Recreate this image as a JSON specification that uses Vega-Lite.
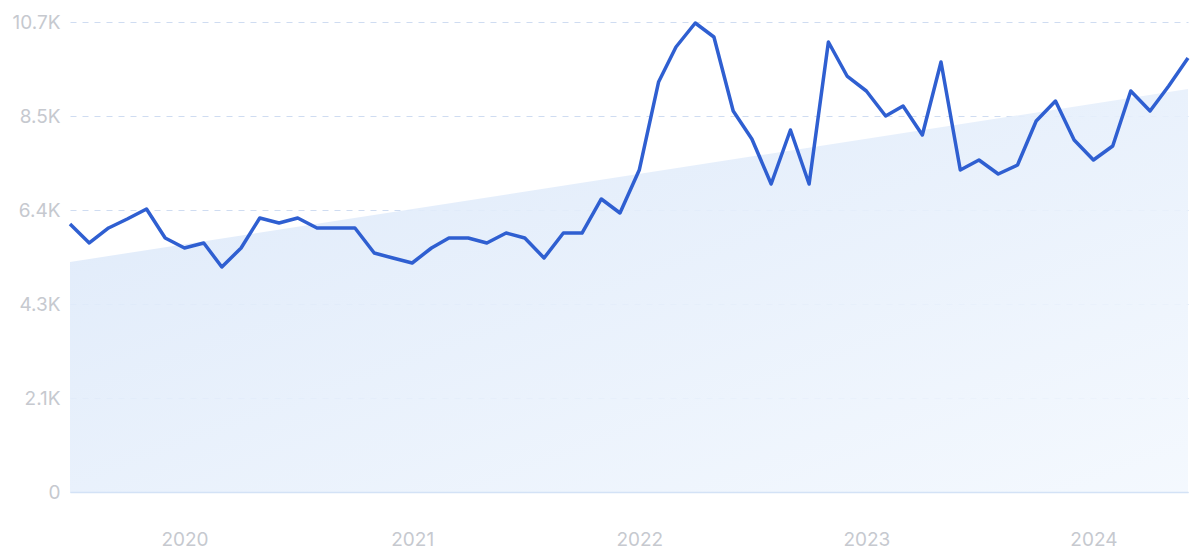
{
  "$schema": "https://vega.github.io/schema/vega-lite/v6.json",
  "width": 1118,
  "height": 470,
  "autosize": "none",
  "padding": {"left": 70, "top": 22, "right": 12, "bottom": 64},
  "background": "white",
  "config": {
    "view": {"stroke": null},
    "font": "Inter"
  },
  "datasets": {
    "traffic": [
      {"date": "2019-07-01", "value": 6078},
      {"date": "2019-08-01", "value": 5648},
      {"date": "2019-09-01", "value": 5988},
      {"date": "2019-10-01", "value": 6192},
      {"date": "2019-11-01", "value": 6419},
      {"date": "2019-12-01", "value": 5761},
      {"date": "2020-01-01", "value": 5534},
      {"date": "2020-02-01", "value": 5648},
      {"date": "2020-03-01", "value": 5103},
      {"date": "2020-04-01", "value": 5534},
      {"date": "2020-05-01", "value": 6215},
      {"date": "2020-06-01", "value": 6101},
      {"date": "2020-07-01", "value": 6215},
      {"date": "2020-08-01", "value": 5988},
      {"date": "2020-09-01", "value": 5988},
      {"date": "2020-10-01", "value": 5988},
      {"date": "2020-11-01", "value": 5421},
      {"date": "2020-12-01", "value": 5307},
      {"date": "2021-01-01", "value": 5194},
      {"date": "2021-02-01", "value": 5534},
      {"date": "2021-03-01", "value": 5761},
      {"date": "2021-04-01", "value": 5761},
      {"date": "2021-05-01", "value": 5648},
      {"date": "2021-06-01", "value": 5874},
      {"date": "2021-07-01", "value": 5761},
      {"date": "2021-08-01", "value": 5307},
      {"date": "2021-09-01", "value": 5874},
      {"date": "2021-10-01", "value": 5874},
      {"date": "2021-11-01", "value": 6646},
      {"date": "2021-12-01", "value": 6328},
      {"date": "2022-01-01", "value": 7303},
      {"date": "2022-02-01", "value": 9299},
      {"date": "2022-03-01", "value": 10093},
      {"date": "2022-04-01", "value": 10637},
      {"date": "2022-05-01", "value": 10320},
      {"date": "2022-06-01", "value": 8641},
      {"date": "2022-07-01", "value": 8006},
      {"date": "2022-08-01", "value": 6985},
      {"date": "2022-09-01", "value": 8210},
      {"date": "2022-10-01", "value": 6985},
      {"date": "2022-11-01", "value": 10206},
      {"date": "2022-12-01", "value": 9435},
      {"date": "2023-01-01", "value": 9095},
      {"date": "2023-02-01", "value": 8528},
      {"date": "2023-03-01", "value": 8755},
      {"date": "2023-04-01", "value": 8097},
      {"date": "2023-05-01", "value": 9753},
      {"date": "2023-06-01", "value": 7303},
      {"date": "2023-07-01", "value": 7530},
      {"date": "2023-08-01", "value": 7213},
      {"date": "2023-09-01", "value": 7417},
      {"date": "2023-10-01", "value": 8415},
      {"date": "2023-11-01", "value": 8868},
      {"date": "2023-12-01", "value": 7984},
      {"date": "2024-01-01", "value": 7530},
      {"date": "2024-02-01", "value": 7848},
      {"date": "2024-03-01", "value": 9095},
      {"date": "2024-04-01", "value": 8641},
      {"date": "2024-05-01", "value": 9208},
      {"date": "2024-06-01", "value": 9843}
    ],
    "trend": [
      {"date": "2019-07-01", "value": 5217},
      {"date": "2024-06-01", "value": 9140}
    ]
  },
  "encoding": {
    "x": {
      "field": "date",
      "type": "temporal",
      "timeUnit": "utcyearmonth",
      "title": null,
      "scale": {
        "domain": [
          {"year": 2019, "month": 7, "date": 1, "utc": true},
          {"year": 2024, "month": 6, "date": 1, "utc": true}
        ],
        "nice": false
      },
      "axis": {
        "values": [
          {"year": 2020, "month": 1, "date": 1, "utc": true},
          {"year": 2021, "month": 1, "date": 1, "utc": true},
          {"year": 2022, "month": 1, "date": 1, "utc": true},
          {"year": 2023, "month": 1, "date": 1, "utc": true},
          {"year": 2024, "month": 1, "date": 1, "utc": true}
        ],
        "format": "%Y",
        "grid": false,
        "ticks": false,
        "domain": true,
        "domainColor": "#d3e2f6",
        "domainWidth": 1.5,
        "labelFontSize": 19,
        "labelColor": "#c6c9cf",
        "labelPadding": 38,
        "labelBaseline": "top",
        "labelFlush": false,
        "zindex": 1
      }
    },
    "y": {
      "field": "value",
      "type": "quantitative",
      "title": null,
      "scale": {"domain": [0, 10660], "nice": false, "zero": true},
      "axis": {
        "values": [0, 2132, 4264, 6396, 8528, 10660],
        "labelExpr": "datum.value == 0 ? '0' : format(datum.value / 1000, '.1f') + 'K'",
        "domain": false,
        "ticks": false,
        "grid": true,
        "gridColor": "#cfdcf1",
        "gridDash": [6, 6],
        "gridWidth": 1,
        "labelFontSize": 19,
        "labelColor": "#c6c9cf",
        "labelPadding": 10,
        "zindex": 0
      }
    }
  },
  "layer": [
    {
      "data": {"name": "trend"},
      "mark": {
        "type": "area",
        "opacity": 0.9,
        "color": {
          "gradient": "linear",
          "x1": 0, "y1": 0, "x2": 1, "y2": 1,
          "stops": [
            {"offset": 0, "color": "#dae7f9"},
            {"offset": 1, "color": "#f3f8fe"}
          ]
        }
      }
    },
    {
      "data": {"name": "traffic"},
      "mark": {"type": "line", "color": "#2f5fd1", "strokeWidth": 3.5, "strokeJoin": "round"}
    }
  ]
}
